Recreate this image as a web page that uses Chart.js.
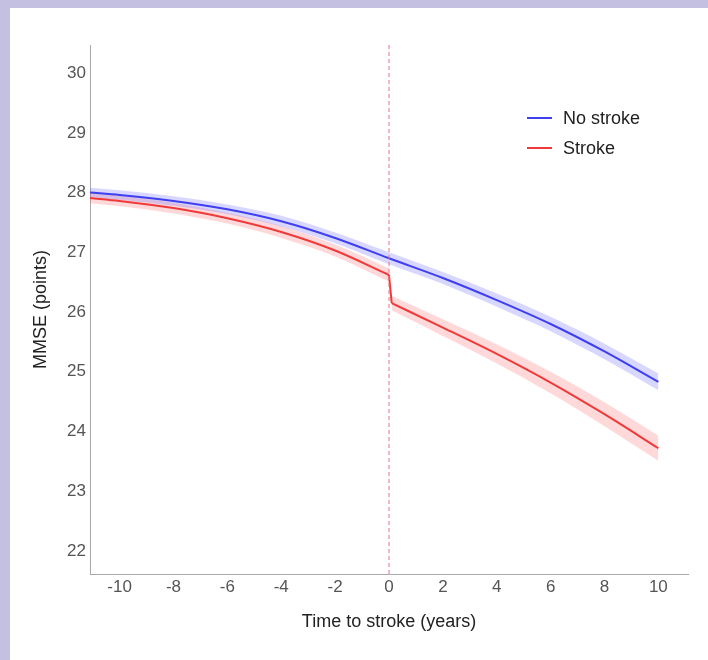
<!DOCTYPE html>
<html>
<head>
<meta charset="utf-8">
<script src="https://cdn.jsdelivr.net/npm/chart.js@4.4.1/dist/chart.umd.min.js"></script>
<style>
    html, body { margin: 0; padding: 0; background: #c4c0e2; }
    #wrap { position: absolute; left: 10px; top: 8px; width: 698px; height: 652px; background: #ffffff; }
</style>
</head>
<body>
<div id="wrap"><canvas id="chart" width="698" height="652"></canvas></div>
<script>
// no stroke group
const years = [-11.1, -10, -8, -6, -4, -2, 0, 2, 4, 6, 8, 10];
const noStroke = [28.00, 27.96, 27.86, 27.72, 27.52, 27.24, 26.90, 26.57, 26.20, 25.80, 25.34, 24.83];
const noStrokeCi = [0.08, 0.08, 0.08, 0.08, 0.09, 0.09, 0.10, 0.10, 0.11, 0.12, 0.13, 0.14];

// stroke group, before and after the event
const yearsBefore = [-11.1, -10, -8, -6, -4, -2, 0];
const strokeBefore = [27.91, 27.86, 27.74, 27.57, 27.34, 27.03, 26.62];
const ciBefore = [0.09, 0.09, 0.09, 0.09, 0.10, 0.10, 0.11];
const yearsAfter = [0.1, 2, 4, 6, 8, 10];
const strokeAfter = [26.15, 25.74, 25.30, 24.82, 24.29, 23.72];
const ciAfter = [0.12, 0.14, 0.16, 0.18, 0.20, 0.21];

const xTicks = [-10, -8, -6, -4, -2, 0, 2, 4, 6, 8, 10];
const yTicks = [22, 23, 24, 25, 26, 27, 28, 29, 30];
const xRange = [-11.1, 11.1];
const yRange = [21.615, 30.47];
const strokeTime = 0;

const blue = "#3f3ff2";
const red = "#f03a3a";
const legendItems = [
    { label: "No stroke", color: blue },
    { label: "Stroke", color: red },
];

function pts(xs, ys, off, sign) {
    return xs.map((x, i) => ({ x: x, y: ys[i] + (off ? sign * off[i] : 0) }));
}

const insideLegend = {
    id: "insideLegend",
    afterDraw(chart) {
        const ctx = chart.ctx;
        ctx.save();
        ctx.font = "18px 'Liberation Sans', Arial, sans-serif";
        ctx.textBaseline = "middle";
        legendItems.forEach((item, i) => {
            const y = 110 + i * 30;
            ctx.strokeStyle = item.color;
            ctx.lineWidth = 2;
            ctx.beginPath();
            ctx.moveTo(517, y);
            ctx.lineTo(542, y);
            ctx.stroke();
            ctx.fillStyle = "#1e1e1e";
            ctx.fillText(item.label, 553, y + 1);
        });
        ctx.restore();
    },
};

function lineSet(label, data, color) {
    return { label: label, data: data, borderColor: color, borderWidth: 2, pointRadius: 0, fill: false, cubicInterpolationMode: "monotone" };
}
function edgeSet(label, data, fill, bg) {
    return { label: label, data: data, borderWidth: 0, borderColor: "transparent", backgroundColor: bg, pointRadius: 0, fill: fill, cubicInterpolationMode: "monotone" };
}

const blueBand = "rgba(110, 110, 255, 0.28)";
const redBand = "rgba(255, 110, 110, 0.26)";

const datasets = [
    {
        label: "stroke time",
        data: [{ x: strokeTime, y: yRange[0] }, { x: strokeTime, y: yRange[1] }],
        borderColor: "#ef6f80",
        borderWidth: 1,
        borderDash: [4, 3],
        pointRadius: 0,
        fill: false,
    },
    lineSet("No stroke", pts(years, noStroke), blue),
    lineSet("Stroke before", pts(yearsBefore, strokeBefore), red),
    lineSet("Stroke after", pts(yearsAfter, strokeAfter), red),
    // the drop at the stroke: last point before, first point after
    {
        label: "Stroke drop",
        data: [pts(yearsBefore, strokeBefore).pop(), pts(yearsAfter, strokeAfter)[0]],
        borderColor: red, borderWidth: 2, pointRadius: 0, fill: false, tension: 0,
    },
    edgeSet("nl", pts(years, noStroke, noStrokeCi, -1), false, blueBand),
    edgeSet("nu", pts(years, noStroke, noStrokeCi, 1), "-1", blueBand),
    edgeSet("bl", pts(yearsBefore, strokeBefore, ciBefore, -1), false, redBand),
    edgeSet("bu", pts(yearsBefore, strokeBefore, ciBefore, 1), "-1", redBand),
    edgeSet("al", pts(yearsAfter, strokeAfter, ciAfter, -1), false, redBand),
    edgeSet("au", pts(yearsAfter, strokeAfter, ciAfter, 1), "-1", redBand),
];

const tickFont = { family: "'Liberation Sans', Arial, sans-serif", size: 17 };
const titleFont = { family: "'Liberation Sans', Arial, sans-serif", size: 18 };

new Chart(document.getElementById("chart"), {
    type: "line",
    data: { datasets: datasets },
    options: {
        responsive: false,
        animation: false,
        devicePixelRatio: 1,
        layout: { padding: { left: 0, right: 20, top: 37, bottom: 0 } },
        plugins: {
            legend: { display: false },
            tooltip: { enabled: false },
        },
        scales: {
            x: {
                type: "linear",
                min: xRange[0],
                max: xRange[1],
                grid: { display: false, drawTicks: false },
                border: { display: true, color: "#a8a8a8", width: 1 },
                ticks: { color: "#555555", font: tickFont, padding: 3, maxRotation: 0 },
                afterBuildTicks: s => { s.ticks = xTicks.map(v => ({ value: v })); },
                afterFit: s => { s.height = 86; },
                title: { display: true, text: "Time to stroke (years)", color: "#222222", font: titleFont, padding: { top: 0, bottom: 27 } },
            },
            y: {
                type: "linear",
                min: yRange[0],
                max: yRange[1],
                grid: { display: false, drawTicks: false },
                border: { display: true, color: "#a8a8a8", width: 1 },
                ticks: { color: "#555555", font: tickFont, padding: 4 },
                afterBuildTicks: s => { s.ticks = yTicks.map(v => ({ value: v })); },
                afterFit: s => { s.width = 80; },
                title: { display: true, text: "MMSE (points)", color: "#222222", font: titleFont, padding: { top: 20, bottom: 0 } },
            },
        },
    },
    plugins: [insideLegend],
});
</script>
</body>
</html>
